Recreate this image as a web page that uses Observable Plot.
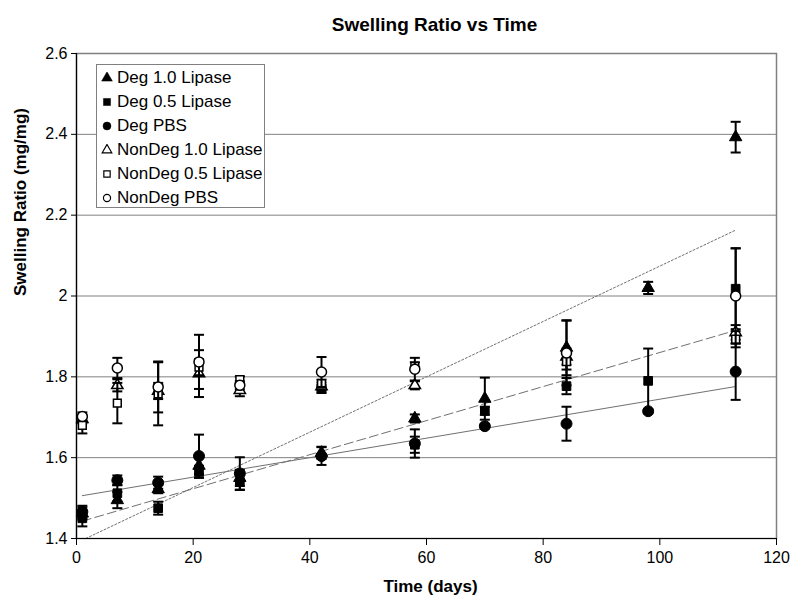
<!DOCTYPE html>
<html><head><meta charset="utf-8">
<script src="https://cdn.jsdelivr.net/npm/d3@7"></script>
<script src="https://cdn.jsdelivr.net/npm/@observablehq/plot@0.6"></script>
<style>
body{margin:0;background:#fff;}
#wrap{position:relative;width:800px;height:616px;font-family:"Liberation Sans",Arial,sans-serif;color:#000;}
#legend{position:absolute;left:96px;top:64px;width:167px;height:142px;border:1px solid #808080;background:#fff;box-sizing:content-box;}
.lrow{position:absolute;left:0;height:24px;line-height:24px;font-size:17px;white-space:nowrap;}
.lrow svg{position:absolute;left:4px;top:6px;}
.lrow span{position:absolute;left:20px;top:0;}
</style>
</head><body>
<div id="wrap"><div id="chart"></div><div id="legend"></div></div>
<script>
// ---- data ----
const title = "Swelling Ratio vs Time";
const xLabel = "Time (days)";
const yLabel = "Swelling Ratio (mg/mg)";
const xTicks = [0, 20, 40, 60, 80, 100, 120];
const yTicks = [1.4, 1.6, 1.8, 2.0, 2.2, 2.4, 2.6];

const seriesNames = ["Deg 1.0 Lipase", "Deg 0.5 Lipase", "Deg PBS", "NonDeg 1.0 Lipase", "NonDeg 0.5 Lipase", "NonDeg PBS"];
const degDays = [1, 7, 14, 21, 28, 42, 58, 70, 84, 98, 113];
const nonDegDays = [1, 7, 14, 21, 28, 42, 58, 84, 113];

const deg10 =    [1.462, 1.495, 1.522, 1.580, 1.550, 1.612, 1.697, 1.746, 1.872, 2.020, 2.393];
const deg10Err = [0.015, 0.020, 0.010, 0.020, 0.020, 0.015, 0.010, 0.052, 0.068, 0.015, 0.038];
const deg05 =    [1.450, 1.512, 1.475, 1.565, 1.540, 1.770, 1.632, 1.716, 1.777, 1.790, 2.018];
const deg05Err = [0.020, 0.020, 0.016, 0.015, 0.020, 0.010, 0.020, 0.010, 0.020, 0.080, 0.100];
const degPBS =   [1.466, 1.544, 1.538, 1.604, 1.561, 1.604, 1.635, 1.678, 1.684, 1.715, 1.813];
const degPBSErr =[0.015, 0.012, 0.015, 0.053, 0.040, 0.022, 0.035, 0.005, 0.042, 0.005, 0.070];

const nd10 =     [1.695, 1.779, 1.765, 1.808, 1.767, 1.776, 1.779, 1.850, 1.910];
const nd10Err =  [0.010, 0.015, 0.020, 0.058, 0.015, 0.010, 0.010, 0.020, 0.018];
const nd05 =     [1.680, 1.735, 1.758, 1.824, 1.793, 1.783, 1.826, 1.838, 1.893];
const nd05Err =  [0.020, 0.050, 0.078, 0.020, 0.008, 0.010, 0.010, 0.020, 0.020];
const ndPBS =    [1.702, 1.822, 1.775, 1.837, 1.779, 1.812, 1.819, 1.859, 2.000];
const ndPBSErr = [0.010, 0.025, 0.063, 0.067, 0.010, 0.037, 0.028, 0.080, 0.118];

// linear trend lines (values at first and last day)
const trendDays = [1, 113];
const trendDeg10 = [1.396, 2.163];
const trendDeg05 = [1.443, 1.915];
const trendDegPBS = [1.506, 1.776];

// ---- build tables ----
const seriesData = [
  {name: seriesNames[0], xs: degDays, ys: deg10, es: deg10Err, symbol: "triangle", filled: true, r: 4.6},
  {name: seriesNames[1], xs: degDays, ys: deg05, es: deg05Err, symbol: "square", filled: true, r: 4.9},
  {name: seriesNames[2], xs: degDays, ys: degPBS, es: degPBSErr, symbol: "circle", filled: true, r: 5.5},
  {name: seriesNames[3], xs: nonDegDays, ys: nd10, es: nd10Err, symbol: "triangle", filled: false, r: 4.2},
  {name: seriesNames[4], xs: nonDegDays, ys: nd05, es: nd05Err, symbol: "square", filled: false, r: 4.4},
  {name: seriesNames[5], xs: nonDegDays, ys: ndPBS, es: ndPBSErr, symbol: "circle", filled: false, r: 5.0}
];
seriesData.forEach(s => { s.rows = s.xs.map((d, i) => ({series: s.name, day: d, value: s.ys[i], err: s.es[i]})); });

const trends = [
  {vals: trendDeg10, dash: "2,2"},
  {vals: trendDeg05, dash: "9,4"},
  {vals: trendDegPBS, dash: null}
].map(t => ({...t, rows: trendDays.map((d, i) => ({day: d, value: t.vals[i]}))}));

const cap = {draw(ctx, size) { const w = Math.sqrt(size / Math.PI); ctx.moveTo(-w, 0); ctx.lineTo(w, 0); }};

const marks = [
  Plot.gridY(yTicks, {stroke: "#808080", strokeOpacity: 1, strokeWidth: 1}),
  Plot.frame({stroke: "#808080", strokeWidth: 1.5}),
  Plot.ruleX([0], {stroke: "#000", strokeWidth: 1.2}),
  Plot.ruleY([1.4], {stroke: "#000", strokeWidth: 1.2}),
  ...trends.map(t => Plot.line(t.rows, {x: "day", y: "value", stroke: "#707070", strokeWidth: 1, strokeDasharray: t.dash, clip: true}))
];
seriesData.forEach(s => {
  marks.push(Plot.ruleX(s.rows, {x: "day", y1: d => d.value - d.err, y2: d => d.value + d.err, stroke: "#000", strokeWidth: 2}));
  marks.push(Plot.dot(s.rows, {x: "day", y: d => d.value + d.err, symbol: cap, r: 5, stroke: "#000", strokeWidth: 2, fill: "none"}));
  marks.push(Plot.dot(s.rows, {x: "day", y: d => d.value - d.err, symbol: cap, r: 5, stroke: "#000", strokeWidth: 2, fill: "none"}));
  marks.push(Plot.dot(s.rows, {x: "day", y: "value", symbol: s.symbol, r: s.r,
    fill: s.filled ? "#000" : "#fff", stroke: "#000", strokeWidth: s.filled ? 1 : 1.5}));
});
marks.push(
  Plot.axisY({ticks: yTicks, tickSize: 5, tickPadding: 4, tickFormat: d3.format("~g"), fontSize: 16, label: null, stroke: "#000"}),
  Plot.axisX({ticks: xTicks, tickSize: 7, tickPadding: 6, tickFormat: d3.format("d"), fontSize: 16, label: null, stroke: "#000"}),
  Plot.text([title], {text: d => d, frameAnchor: "top", dy: -36, dx: 8, fontSize: 19, fontWeight: "bold"}),
  Plot.text([xLabel], {text: d => d, frameAnchor: "bottom", dy: 53, dx: 4, fontSize: 17, fontWeight: "bold"}),
  Plot.text([yLabel], {text: d => d, frameAnchor: "left", dx: -56, rotate: -90, fontSize: 17, fontWeight: "bold"})
);

const chart = Plot.plot({
  width: 800, height: 616,
  marginLeft: 76, marginRight: 24, marginTop: 53, marginBottom: 78,
  x: {domain: [0, 120]},
  y: {domain: [1.4, 2.6]},
  style: {fontFamily: "'Liberation Sans', Arial, sans-serif", fontSize: "16px", color: "#000", background: "#fff"},
  marks
});
document.getElementById("chart").appendChild(chart);

// ---- legend ----
const legend = d3.select("#legend");
seriesData.forEach((s, i) => {
  const row = legend.append("div").attr("class", "lrow").style("top", (i * 24 + 1) + "px");
  const svg = row.append("svg").attr("width", 12).attr("height", 12);
  const symType = {triangle: d3.symbolTriangle, square: d3.symbolSquare, circle: d3.symbolCircle}[s.symbol];
  const size = s.filled ? 50 : 40;
  svg.append("path").attr("transform", "translate(6,6)")
    .attr("d", d3.symbol(symType, size)())
    .attr("fill", s.filled ? "#000" : "#fff").attr("stroke", "#000").attr("stroke-width", s.filled ? 0.5 : 1.2);
  row.append("span").text(s.name);
});
</script>
</body></html>
